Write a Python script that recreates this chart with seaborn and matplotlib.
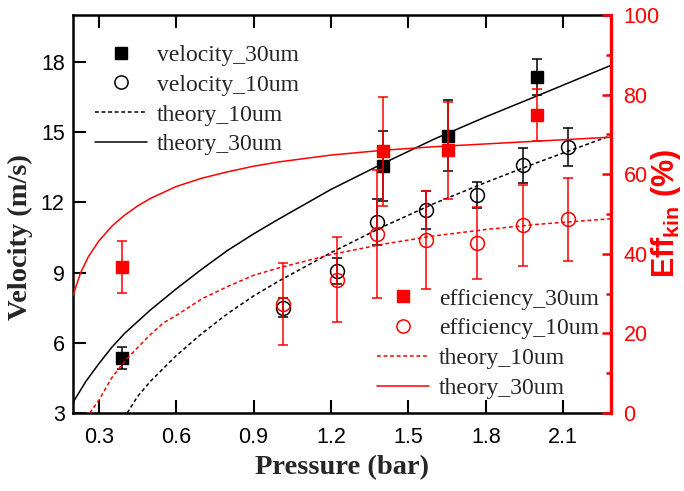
import matplotlib
matplotlib.use('Agg')
import matplotlib.pyplot as plt
import seaborn as sns
from matplotlib.lines import Line2D
from matplotlib.ticker import MultipleLocator

# measured points
p_30um = [0.39, 1.40, 1.655, 2.00]
vel_30um = [5.35, 13.55, 14.85, 17.35]
vel_30um_err = [0.47, 1.5, 1.5, 0.78]
eff_30um = [36.7, 65.7, 66.0, 74.9]
eff_30um_err = [6.5, 13.7, 12.2, 6.6]

p_10um = [1.015, 1.225, 1.378, 1.568, 1.766, 1.945, 2.12]
vel_10um = [7.49, 9.07, 11.16, 11.67, 12.30, 13.58, 14.37]
vel_10um_err = [0.4, 0.55, 1.0, 0.8, 0.55, 0.75, 0.8]
eff_10um = [27.5, 33.5, 45.0, 43.5, 42.7, 47.2, 48.7]
eff_10um_err = [10.3, 10.6, 16.0, 12.3, 9.0, 10.2, 10.4]

# theory curves
p_vth30 = [0.20, 0.25, 0.30, 0.35, 0.40, 0.50, 0.60, 0.70, 0.80, 0.90, 1.00, 1.20, 1.40, 1.60, 1.80, 2.00, 2.285]
vel_th30 = [3.45, 4.35, 5.10, 5.80, 6.40, 7.40, 8.30, 9.15, 9.95, 10.65, 11.30, 12.55, 13.65, 14.70, 15.65, 16.55, 17.85]
p_vth10 = [0.41, 0.45, 0.50, 0.60, 0.70, 0.80, 0.90, 1.00, 1.20, 1.40, 1.60, 1.80, 2.00, 2.285]
vel_th10 = [3.0, 3.7, 4.35, 5.45, 6.40, 7.25, 8.00, 8.65, 9.85, 10.95, 11.95, 12.85, 13.70, 14.85]
p_eth30 = [0.20, 0.23, 0.26, 0.30, 0.35, 0.40, 0.45, 0.50, 0.60, 0.70, 0.80, 0.90, 1.00, 1.20, 1.40, 1.60, 1.80, 2.00, 2.285]
eff_th30 = [29.5, 35.3, 39.3, 43.2, 46.9, 49.7, 52.0, 53.9, 56.9, 59.0, 60.6, 62.0, 63.1, 64.8, 66.0, 66.9, 67.6, 68.3, 69.3]
p_eth10 = [0.265, 0.30, 0.35, 0.40, 0.45, 0.50, 0.55, 0.60, 0.70, 0.80, 0.90, 1.00, 1.20, 1.40, 1.60, 1.80, 2.00, 2.285]
eff_th10 = [0.0, 3.2, 8.8, 13.0, 16.4, 19.7, 22.6, 24.5, 28.7, 31.8, 34.6, 36.5, 39.8, 42.4, 44.5, 46.1, 47.4, 48.8]

sns.set_style('ticks')
plt.rcParams['font.family'] = ['Liberation Sans', 'DejaVu Sans']
plt.rcParams['mathtext.fontset'] = 'custom'
plt.rcParams['mathtext.rm'] = 'Liberation Sans'
plt.rcParams['mathtext.bf'] = 'Liberation Sans:bold'

serif = 'Liberation Serif'
dash = (0, (2.5, 1.8))

fig = plt.figure(figsize=(6.84, 4.91), dpi=100)
ax = fig.add_axes([0.1067, 0.1589, 0.7866, 0.8106])
ax2 = ax.twinx()

# velocity (left axis)
sns.lineplot(x=p_vth30, y=vel_th30, ax=ax, color='black', lw=1.1)
sns.lineplot(x=p_vth10, y=vel_th10, ax=ax, color='black', lw=1.1, linestyle=dash)
ax.errorbar(p_30um, vel_30um, yerr=vel_30um_err, fmt='s', color='black', ms=8,
            capsize=3.8, elinewidth=1.1, capthick=1.1)
ax.errorbar(p_10um, vel_10um, yerr=vel_10um_err, fmt='o', color='black', mfc='none',
            mew=1.1, ms=10, capsize=3.8, elinewidth=1.1, capthick=1.1)

# efficiency (right axis)
sns.lineplot(x=p_eth30, y=eff_th30, ax=ax2, color='red', lw=1.1)
sns.lineplot(x=p_eth10, y=eff_th10, ax=ax2, color='red', lw=1.1, linestyle=dash)
ax2.errorbar(p_30um, eff_30um, yerr=eff_30um_err, fmt='s', color='red', ms=8,
             capsize=3.8, elinewidth=1.1, capthick=1.1)
ax2.errorbar(p_10um, eff_10um, yerr=eff_10um_err, fmt='o', color='red', mfc='none',
             mew=1.1, ms=10, capsize=3.8, elinewidth=1.1, capthick=1.1)

ax.set_xlim(0.2, 2.285)
ax.set_ylim(3, 20)
ax2.set_ylim(0, 100)
ax.set_xticks([0.3, 0.6, 0.9, 1.2, 1.5, 1.8, 2.1])
ax.set_yticks([3, 6, 9, 12, 15, 18])
ax2.set_yticks([0, 20, 40, 60, 80, 100])
ax2.yaxis.set_minor_locator(MultipleLocator(10))

for s in ['left', 'top', 'bottom']:
    ax.spines[s].set_color('black')
    ax.spines[s].set_linewidth(1.8)
ax.spines['right'].set_visible(False)
for s in ['left', 'top', 'bottom']:
    ax2.spines[s].set_visible(False)
ax2.spines['right'].set_color('red')
ax2.spines['right'].set_linewidth(2.4)

ax.tick_params(axis='both', direction='in', length=9.5, width=1.5, colors='black',
               labelsize=15.5, top=True, right=False)
ax.tick_params(axis='x', pad=10)
ax.tick_params(axis='y', pad=6)
ax2.tick_params(axis='y', which='major', direction='in', length=6.5, width=1.8,
                colors='red', labelsize=15.5, pad=9)
ax2.tick_params(axis='y', which='minor', direction='in', length=3.5, width=1.8, colors='red')

ax.set_xlabel('Pressure (bar)', fontfamily=serif, fontweight='bold', fontsize=20.5)
ax.xaxis.set_label_coords(0.5, -0.105)
ax.set_ylabel('Velocity (m/s)', fontfamily=serif, fontweight='bold', fontsize=20.5)
ax.yaxis.set_label_coords(-0.074, 0.443)
ax2.set_ylabel(r'$\mathbf{Eff}_{\mathbf{kin}}$ (%)', color='red', fontweight='bold', fontsize=22)
ax2.yaxis.set_label_coords(1.07, 0.5)

h1 = [Line2D([], [], ls='none', marker='s', color='black', ms=8),
      Line2D([], [], ls='none', marker='o', mfc='none', mec='black', mew=1.1, ms=9.5),
      Line2D([], [], color='black', lw=1.1, ls=dash),
      Line2D([], [], color='black', lw=1.1)]
ax.legend(h1, ['velocity_30um', 'velocity_10um', 'theory_10um', 'theory_30um'],
          loc='upper left', bbox_to_anchor=(0.041, 0.926), frameon=False,
          prop={'family': serif, 'size': 17}, handlelength=2.2, handletextpad=0.42,
          labelspacing=0.35, borderpad=0, borderaxespad=0)

h2 = [Line2D([], [], ls='none', marker='s', color='red', ms=8),
      Line2D([], [], ls='none', marker='o', mfc='none', mec='red', mew=1.1, ms=9.5),
      Line2D([], [], color='red', lw=1.1, ls=dash),
      Line2D([], [], color='red', lw=1.1)]
ax2.legend(h2, ['efficiency_30um', 'efficiency_10um', 'theory_10um', 'theory_30um'],
           loc='upper left', bbox_to_anchor=(0.565, 0.314), frameon=False,
           prop={'family': serif, 'size': 17}, handlelength=2.2, handletextpad=0.42,
           labelspacing=0.35, borderpad=0, borderaxespad=0)

fig.savefig('out.png', dpi=100)
plt.close(fig)
